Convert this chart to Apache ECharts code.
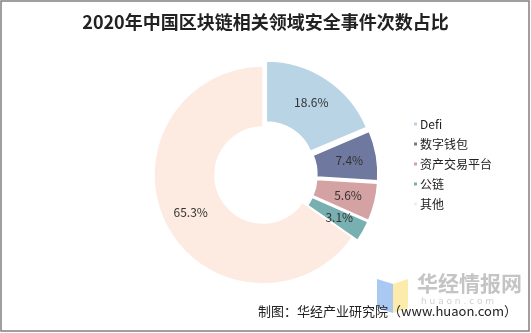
<!DOCTYPE html>
<html><head><meta charset="utf-8">
<script src="https://cdn.jsdelivr.net/npm/echarts@6/dist/echarts.min.js"></script>
<style>html,body{margin:0;padding:0;background:#fff}#c{width:531px;height:333px}</style>
</head><body><div id="c"></div>
<script>
const categories = ['Defi','数字钱包','资产交易平台','公链','其他'];
const values = [18.6, 7.4, 5.6, 3.1, 65.3];
const colors = ['#b8d4e5','#6f799f','#d4a2a2','#78afb0','#fdeae0'];
const exploded = [true, true, true, true, false];

const chart = echarts.init(document.getElementById('c'));
chart.setOption({
  backgroundColor: '#fff',
  animation: false,
  title: {
    text: '2020年中国区块链相关领域安全事件次数占比',
    left: 'center', top: 8,
    textStyle: { fontFamily: '"Noto Sans CJK SC"', fontWeight: 'bold', fontSize: 18, color: '#222' }
  },
  legend: {
    orient: 'vertical', left: 407, top: 113,
    itemWidth: 5, itemHeight: 5, itemGap: 8, icon: 'rect',
    textStyle: { fontFamily: '"Noto Sans CJK SC"', fontSize: 12, color: '#222', padding: [0,0,0,-3] },
    data: categories
  },
  graphic: [
    { type: 'rect', shape: { x: 1, y: 1, width: 528, height: 330 }, style: { fill: 'none', stroke: '#808080', lineWidth: 1.5 }, z: 10 },
    { type: 'polygon', shape: { points: [[377,279],[393,284],[393,313],[377,308]] }, style: { fill: '#a9c8f2' } },
    { type: 'polygon', shape: { points: [[393,284],[408,279],[408,308],[393,313]] }, style: { fill: '#fcebaa' } },
    { type: 'text', left: 417, top: 273, style: { text: '华经情报网', font: 'bold 21px "Noto Sans CJK SC"', fill: '#c4c4c4' } },
    { type: 'text', left: 421, top: 297, style: { text: 'h u a o n . c o m', font: '9px "DejaVu Sans"', fill: '#d0d0d0' } },
    { type: 'text', right: 14, top: 305, style: { text: '制图：华经产业研究院（www.huaon.com）', font: '13px "Noto Sans CJK SC"', fill: '#222' }, z: 5 }
  ],
  series: [{
    type: 'pie',
    center: [263, 175],
    radius: [48, 109],
    startAngle: 90,
    clockwise: true,
    selectedMode: 'multiple',
    selectedOffset: 6,
    label: {
      position: 'inside',
      formatter: p => p.value.toFixed(1) + '%',
      fontFamily: '"Noto Sans CJK SC"', fontSize: 12, color: '#333'
    },
    labelLine: { show: false },
    itemStyle: { borderColor: '#fff', borderWidth: 1.5 },
    emphasis: { disabled: true },
    data: categories.map((n, i) => ({
      name: n, value: values[i], selected: exploded[i],
      itemStyle: { color: colors[i] }
    }))
  }],
  color: colors
});
</script></body></html>
